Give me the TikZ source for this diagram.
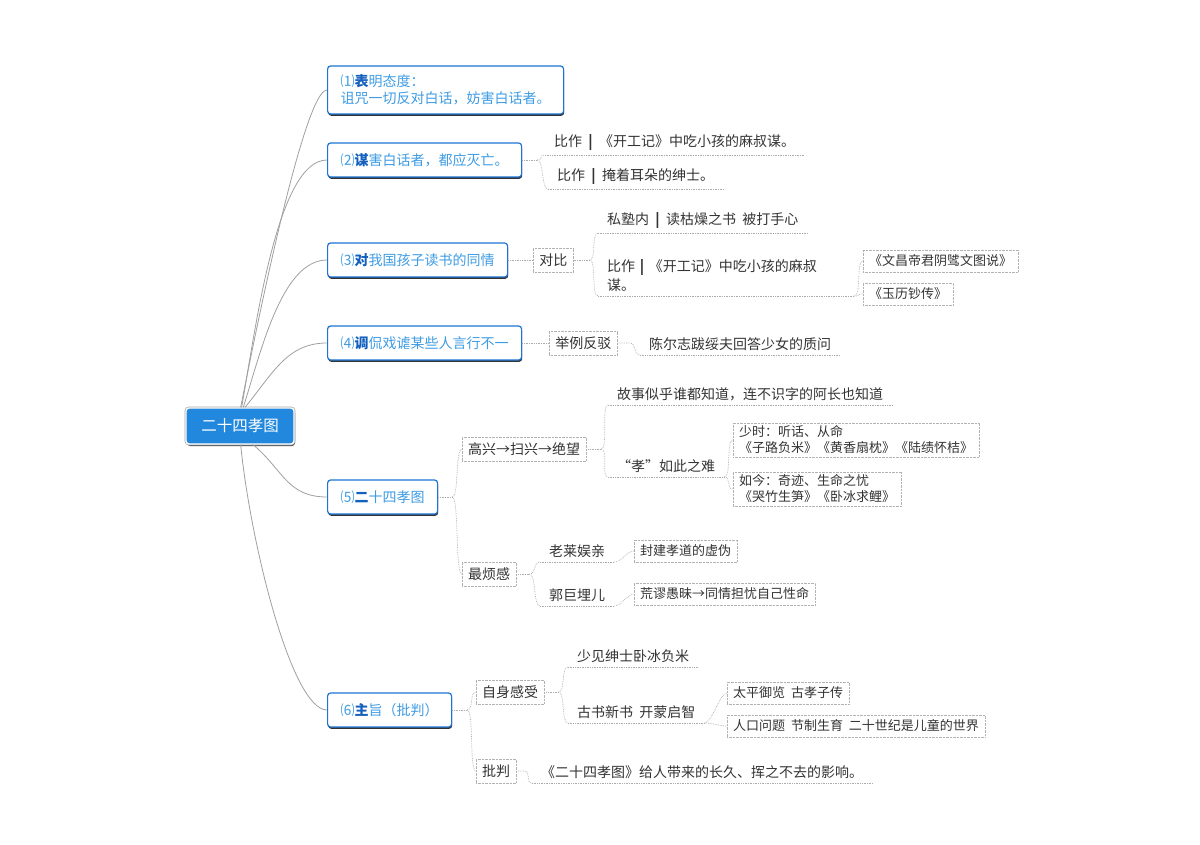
\documentclass[tikz,border=0pt]{standalone}
\usepackage{fontspec}
\newfontfamily\cjk[WordSpace=2]{Noto Sans CJK SC}
\usetikzlibrary{positioning, shadows}

\definecolor{rootblue}{RGB}{34,136,222}
\definecolor{edgeblue}{RGB}{28,116,212}
\definecolor{topicblue}{RGB}{62,156,228}
\definecolor{keyblue}{RGB}{20,96,190}
\definecolor{inkgray}{RGB}{51,51,51}

\newcommand{\keyc}[1]{{\color{keyblue}\bfseries #1}}

\begin{document}
\begin{tikzpicture}[x=1pt, y=-1pt,
    root/.style={drop shadow={shadow xshift=1pt, shadow yshift=-2pt, fill=black!75, opacity=1},
        preaction={draw=gray!70, line width=2.8pt}, draw=white, line width=1.4pt,
        fill=rootblue, rounded corners=3pt, text=white,
        font=\cjk\fontsize{15.5}{18}\selectfont, minimum width=108pt, minimum height=36pt},
    main/.style={drop shadow={shadow xshift=0.6pt, shadow yshift=-1.8pt, fill=black!80, opacity=1},
        draw=edgeblue, line width=1.2pt, rounded corners=3pt, fill=white, text=topicblue,
        font=\cjk\fontsize{14}{17}\selectfont, inner xsep=13pt, minimum height=34pt,
        anchor=west, align=left},
    box/.style={draw=gray!60, densely dotted, fill=white, text=inkgray,
        font=\cjk\fontsize{14}{17}\selectfont, inner xsep=6pt, minimum height=24pt, anchor=west},
    leaf/.style={box, font=\cjk\fontsize{13}{16}\selectfont, minimum height=22pt,
        inner ysep=3pt, align=left},
    topic/.style={anchor=south west, inner xsep=9pt, inner ysep=4pt, text=inkgray,
        font=\cjk\fontsize{14}{19}\selectfont, align=left},
    trunk/.style={draw=gray!75, line width=0.8pt},
    link/.style={draw=gray!65, line width=0.7pt, densely dotted},
    twig/.style={out=0, in=180, distance=7pt}]

    \useasboundingbox (0,0) rectangle (1200,845);

    \node[root] (root) at (240,426) {二十四孝图};

    \node[main, minimum height=48pt] (m1) at (327,90) {⑴\keyc{表}明态度：\\诅咒一切反对白话，妨害白话者。};
    \node[main] (m2) at (327,160) {⑵\keyc{谋}害白话者，都应灭亡。};
    \node[main] (m3) at (327,260) {⑶\keyc{对}我国孩子读书的同情};
    \node[main] (m4) at (327,343) {⑷\keyc{调}侃戏谑某些人言行不一};
    \node[main] (m5) at (327,497) {⑸\keyc{二}十四孝图};
    \node[main] (m6) at (327,710) {⑹\keyc{主}旨（批判）};

    % (2)
    \node[topic] (b2a) at (545,155) {比作 \textbf{|} 《开工记》中吃小孩的麻叔谋。};
    \node[topic] (b2b) at (548,189) {比作 \textbf{|} 掩着耳朵的绅士。};

    % (3)
    \node[box, right=25pt of m3] (c3) {对比};
    \node[topic] (c3a) at (598,233) {私塾内 \textbf{|} 读枯燥之书 被打手心};
    \node[topic, text width=238pt] (c3b) at (598,296) {比作 \textbf{|} 《开工记》中吃小孩的麻叔\\谋。};
    \node[leaf] (d3a) at (863,261) {《文昌帝君阴骘文图说》};
    \node[leaf] (d3b) at (863,294) {《玉历钞传》};

    % (4)
    \node[box, right=27pt of m4] (c4) {举例反驳};
    \node[topic] (c4a) at (640,355) {陈尔志跋绥夫回答少女的质问};

    % (5)
    \node[box] (c5a) at (462,449) {高兴→扫兴→绝望};
    \node[box] (c5b) at (462,574) {最烦感};
    \node[topic] (d5a) at (608,405) {故事似乎谁都知道，连不识字的阿长也知道};
    \node[topic] (d5b) at (608,477) {“孝”如此之难};
    \node[leaf] (e5a) at (733,440) {少时：听话、从命\\《子路负米》《黄香扇枕》《陆绩怀桔》};
    \node[leaf] (e5b) at (733,489) {如今：奇迹、生命之忧\\《哭竹生笋》《卧冰求鲤》};
    \node[topic] (d5c) at (540,562) {老莱娱亲};
    \node[topic] (d5d) at (540,606) {郭巨埋儿};
    \node[leaf] (e5c) at (634,551) {封建孝道的虚伪};
    \node[leaf] (e5d) at (634,594) {荒谬愚昧→同情担忧自己性命};

    % (6)
    \node[box] (c6a) at (476,692) {自身感受};
    \node[box] (c6b) at (476,771) {批判};
    \node[topic] (d6a) at (568,667) {少见绅士卧冰负米};
    \node[topic] (d6b) at (568,723) {古书新书 开蒙启智};
    \node[leaf] (e6a) at (727,693) {太平御览 古孝子传};
    \node[leaf] (e6b) at (727,726) {人口问题 节制生育 二十世纪是儿童的世界};
    \node[topic] (d6c) at (532,783) {《二十四孝图》给人带来的长久、挥之不去的影响。};

    % root to main topics
    \draw[trunk] (root.88) .. controls +(6,-29) and +(-25,0) .. (m1.west);
    \draw[trunk] (root.85) .. controls +(14,-79) and +(-50,0) .. (m2.west);
    \draw[trunk] (root.80) .. controls +(18,-57) and +(-45,0) .. (m3.west);
    \draw[trunk] (root.75) .. controls +(28,-34) and +(-40,0) .. (m4.west);
    \draw[trunk] (root.-55) .. controls +(30,25) and +(-40,0) .. (m5.west);
    \draw[trunk] (root.-88) .. controls +(10,100) and +(-35,0) .. (m6.west);

    % subtopics
    \draw[link] (m2.east) -- ++(15,0) coordinate (k2);
    \path[link] (k2) edge[twig] (b2a.south west) edge[twig] (b2b.south west);

    \draw[link] (m3.east) -- (c3.west);
    \draw[link] (c3.east) -- ++(16,0) coordinate (k3);
    \path[link] (k3) edge[twig] (c3a.south west) edge[twig] (c3b.south west);
    \path[link] (c3b.south east) edge[twig] (d3a.west) edge[twig] (d3b.west);

    \draw[link] (m4.east) -- (c4.west);
    \draw[link] (c4.east) -- ++(12,0) to[twig] (c4a.south west);

    \draw[link] (m5.east) -- ++(14,0) coordinate (k5);
    \path[link] (k5) edge[twig] (c5a.west) edge[twig] (c5b.west);
    \draw[link] (c5a.east) -- ++(15,0) coordinate (k5a);
    \path[link] (k5a) edge[twig] (d5a.south west) edge[twig] (d5b.south west);
    \path[link] (d5b.south east) edge[twig] (e5a.west) edge[twig] (e5b.west);
    \draw[link] (c5b.east) -- ++(13,0) coordinate (k5b);
    \path[link] (k5b) edge[twig] (d5c.south west) edge[twig] (d5d.south west);
    \path[link] (d5c.south east) edge[twig] (e5c.west);
    \path[link] (d5d.south east) edge[twig] (e5d.west);

    \draw[link] (m6.east) -- ++(15,0) coordinate (k6);
    \path[link] (k6) edge[twig] (c6a.west) edge[twig] (c6b.west);
    \draw[link] (c6a.east) -- ++(14,0) coordinate (k6a);
    \path[link] (k6a) edge[twig] (d6a.south west) edge[twig] (d6b.south west);
    \path[link] (d6b.south east) edge[twig] (e6a.west) edge[twig] (e6b.west);
    \draw[link] (c6b.east) -- ++(8,0) to[twig] (d6c.south west);

    % underlines
    \foreach \t in {b2a,b2b,c3a,c3b,c4a,d5a,d5b,d5c,d5d,d6a,d6b,d6c}
        \draw[link] (\t.south west) -- (\t.south east);

\end{tikzpicture}
\end{document}
